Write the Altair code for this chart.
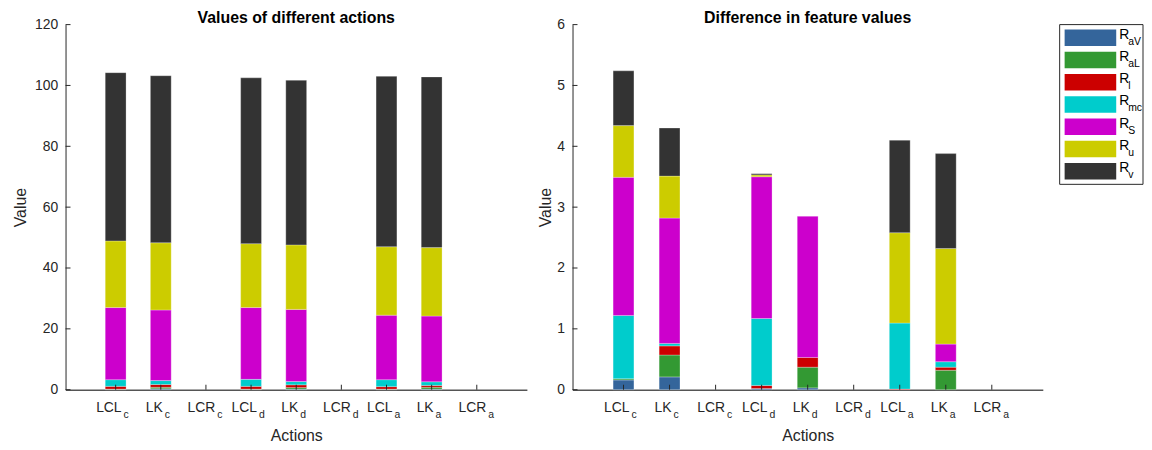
import altair as alt
import pandas as pd

# ---------------- data ----------------
action_base = ["LCL", "LK", "LCR", "LCL", "LK", "LCR", "LCL", "LK", "LCR"]
action_sub = ["c", "c", "c", "d", "d", "d", "a", "a", "a"]
series = ["R_aV", "R_aL", "R_l", "R_mc", "R_S", "R_u", "R_v"]
series_sub = ["aV", "aL", "l", "mc", "S", "u", "v"]
colors = ["#34659b", "#339933", "#cc0000", "#00cccc", "#cc00cc", "#cccc00", "#333333"]

left_R_aV = [0.1, 0.3, 0, 0.1, 0.2, 0, 0.1, 0.2, 0]
left_R_aL = [0.1, 0.5, 0, 0.1, 0.5, 0, 0.1, 0.6, 0]
left_R_l = [0.9, 0.9, 0, 0.9, 0.9, 0, 0.8, 0.6, 0]
left_R_mc = [2.2, 1.3, 0, 2.3, 1.1, 0, 2.3, 1.2, 0]
left_R_S = [23.7, 23.2, 0, 23.6, 23.7, 0, 21.2, 21.6, 0]
left_R_u = [21.9, 22.1, 0, 21.0, 21.2, 0, 22.5, 22.5, 0]
left_R_v = [55.3, 54.9, 0, 54.5, 54.1, 0, 56.0, 56.1, 0]

right_R_aV = [0.16, 0.21, 0, 0.02, 0.03, 0, 0, 0, 0]
right_R_aL = [0.02, 0.36, 0, 0, 0.34, 0, 0, 0.32, 0]
right_R_l = [0, 0.15, 0, 0.05, 0.16, 0, 0.01, 0.05, 0]
right_R_mc = [1.04, 0.04, 0, 1.10, 0, 0, 1.085, 0.09, 0]
right_R_S = [2.27, 2.06, 0, 2.33, 2.32, 0, 0, 0.29, 0]
right_R_u = [0.85, 0.69, 0, 0.03, 0, 0, 1.485, 1.57, 0]
right_R_v = [0.90, 0.79, 0, 0.02, 0, 0, 1.52, 1.56, 0]

left_yticks = [0, 20, 40, 60, 80, 100, 120]
right_yticks = [0, 1, 2, 3, 4, 5, 6]

left_vals = [left_R_aV, left_R_aL, left_R_l, left_R_mc, left_R_S, left_R_u, left_R_v]
right_vals = [right_R_aV, right_R_aL, right_R_l, right_R_mc, right_R_S, right_R_u, right_R_v]

# ---------------- style ----------------
FONT = "Liberation Sans"
AX = "#262626"
H = 368
# per-base label offsets (base right edge, subscript left edge) relative to the tick
label_offsets = {"LCL": (6, 8), "LK": (2, 4), "LCR": (9.5, 11.5)}

color_scale = alt.Scale(domain=series, range=colors)


def make_panel(vals, yticks, ymax, title, width, y_title_pad):
    rows = []
    for k, s in enumerate(series):
        for i in range(len(action_base)):
            rows.append({"idx": i + 1, "series": s, "k": k, "value": vals[k][i]})
    df = pd.DataFrame(rows)

    xscale = alt.Scale(domain=[0, 10], nice=False, zero=False)
    yscale = alt.Scale(domain=[0, ymax], nice=False)

    bars = (
        alt.Chart(df)
        .transform_filter("datum.value > 0")
        .mark_bar(size=21, stroke="white", strokeWidth=0.6, strokeOpacity=0.45)
        .encode(
            x=alt.X(
                "idx:Q",
                scale=xscale,
                title="Actions",
                axis=alt.Axis(
                    labels=False, ticks=False, grid=False, domainColor="#555555",
                    domainWidth=1.5, titlePadding=38,
                ),
            ),
            y=alt.Y(
                "value:Q",
                stack="zero",
                scale=yscale,
                title="Value",
                axis=alt.Axis(
                    values=yticks, ticks=False, tickSize=0, grid=False, labelPadding=8,
                    format="d", titlePadding=y_title_pad,
                ),
            ),
            color=alt.Color("series:N", scale=color_scale, legend=None),
            order=alt.Order("k:Q", sort="ascending"),
        )
    )

    ytk = (
        alt.Chart(pd.DataFrame({"value": yticks}))
        .mark_rule(color=AX, strokeWidth=1)
        .encode(y=alt.Y("value:Q", title="Value"), x=alt.value(0), x2=alt.value(5))
    )
    xtk = (
        alt.Chart(pd.DataFrame({"idx": list(range(1, len(action_base) + 1))}))
        .mark_rule(color=AX, strokeWidth=1)
        .encode(x=alt.X("idx:Q", title="Actions"), y=alt.value(H), y2=alt.value(H - 5))
    )

    lab_df = pd.DataFrame(
        {"idx": list(range(1, len(action_base) + 1)), "base": action_base, "sub": action_sub}
    )
    layers = [bars, ytk, xtk]
    for b, (db, ds) in label_offsets.items():
        sel = lab_df[lab_df["base"] == b]
        base_t = (
            alt.Chart(sel)
            .mark_text(align="right", baseline="alphabetic", dx=db, font=FONT,
                       fontSize=14, color=AX)
            .encode(x=alt.X("idx:Q", title="Actions"), y=alt.value(H + 22), text="base:N")
        )
        sub_t = (
            alt.Chart(sel)
            .mark_text(align="left", baseline="alphabetic", dx=ds, font=FONT,
                       fontSize=10.5, color=AX)
            .encode(x=alt.X("idx:Q", title="Actions"), y=alt.value(H + 29), text="sub:N")
        )
        layers += [base_t, sub_t]

    return alt.layer(*layers).properties(
        width=width,
        height=H,
        title=alt.TitleParams(title, fontSize=16, fontWeight="bold", font=FONT,
                              color="black", offset=-8, anchor="middle"),
    )


left = make_panel(left_vals, left_yticks, 120, "Values of different actions", 465, 6)
right = make_panel(right_vals, right_yticks, 6, "Difference in feature values", 474, 3)

# ---------------- legend panel ----------------
LW, LH = 84, 161
leg_df = pd.DataFrame({"series": series, "sub": series_sub})
ysc = alt.Scale(domain=series, paddingInner=0.255, paddingOuter=0.22)

box = (
    alt.Chart(pd.DataFrame({"series": ["box"]}))
    .mark_rect(fill="white", stroke=AX, strokeWidth=1)
    .encode(x=alt.value(0), x2=alt.value(LW), y=alt.value(0), y2=alt.value(LH))
)
swatch = (
    alt.Chart(leg_df)
    .mark_rect()
    .encode(
        y=alt.Y("series:N", scale=ysc, axis=None, sort=series),
        x=alt.value(5),
        x2=alt.value(57),
        color=alt.Color("series:N", scale=color_scale, legend=None),
    )
)
r_text = (
    alt.Chart(leg_df)
    .mark_text(text="R", align="left", baseline="middle", dy=-3, font=FONT,
               fontSize=14, color="black")
    .encode(y=alt.Y("series:N", scale=ysc, axis=None, sort=series), x=alt.value(60))
)
s_text = (
    alt.Chart(leg_df)
    .mark_text(align="left", baseline="middle", dy=4, font=FONT, fontSize=10.5,
               color="black")
    .encode(y=alt.Y("series:N", scale=ysc, axis=None, sort=series), x=alt.value(69),
            text="sub:N")
)
legend = alt.layer(box, swatch, r_text, s_text).properties(
    width=LW,
    height=LH,
    title=alt.TitleParams(" ", fontSize=16, fontWeight="bold", font=FONT, offset=-8),
)

chart = (
    alt.hconcat(left, alt.hconcat(right, legend, spacing=16), spacing=11)
    .properties(padding={"left": 4, "top": 0, "right": 0, "bottom": 0})
    .configure_view(stroke=None)
    .configure_axis(
        labelFont=FONT, titleFont=FONT, labelFontSize=14, titleFontSize=16,
        labelColor=AX, titleColor=AX, domainColor=AX, titleFontWeight="normal",
    )
)

chart.save("out.html", embed_options={"renderer": "svg", "actions": False})
